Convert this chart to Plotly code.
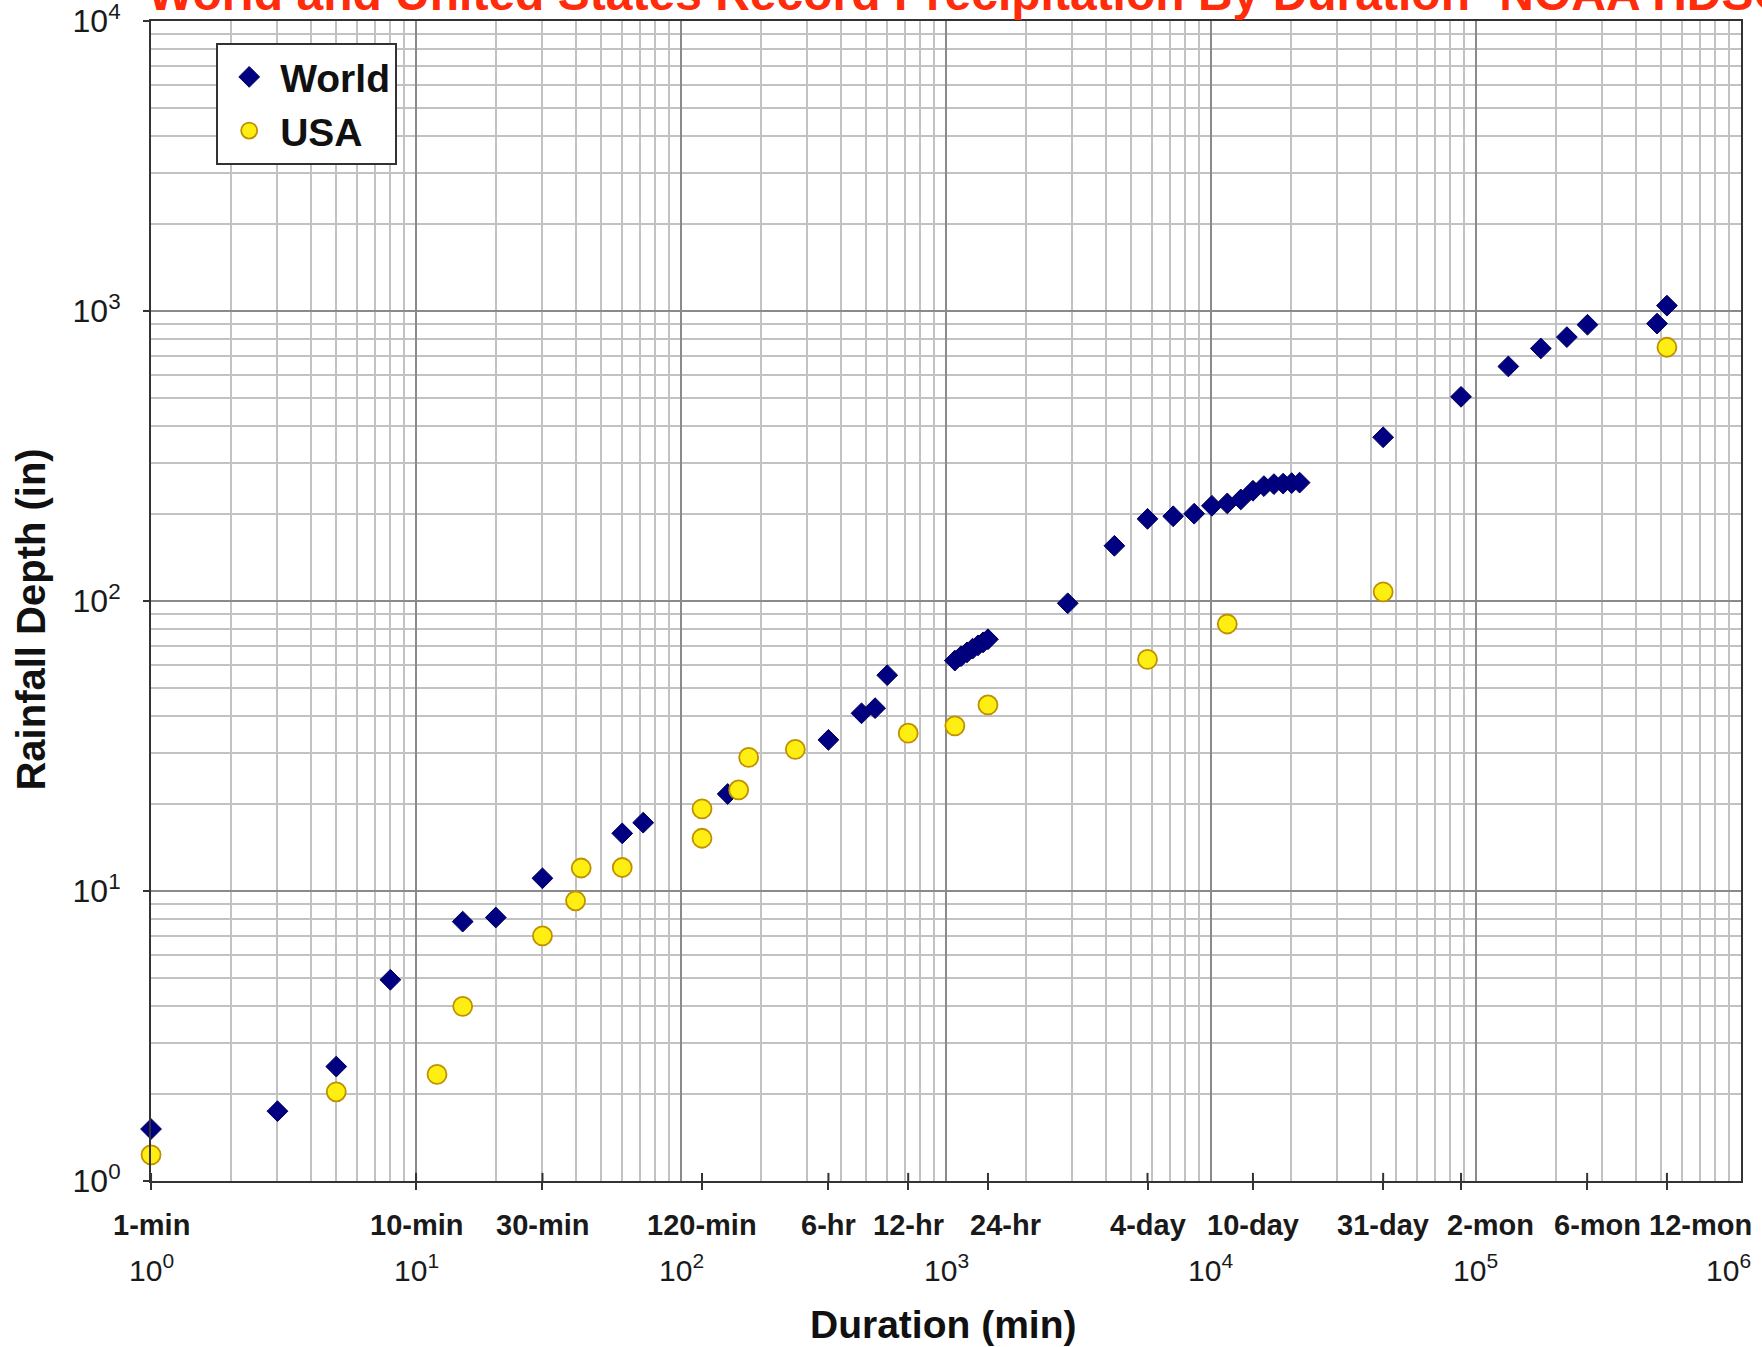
import math
import plotly.graph_objects as go

# World record point rainfall: duration (minutes) and depth (inches)
world_minutes = [1, 3, 5, 8, 15, 20, 30, 60, 72, 150, 360, 480, 540, 600,
                 1080, 1140, 1200, 1260, 1320, 1380, 1440, 2880,
                 4320, 5760, 7200, 8640, 10080, 11520, 12960, 14400,
                 15840, 17280, 18720, 20160, 21600, 44640,
                 87840, 132480, 175680, 220320, 263520, 482400, 525600]
world_inches = [1.51, 1.74, 2.48, 4.94, 7.84, 8.1, 11.06, 15.8, 17.2, 21.6, 33.2, 41.0, 42.7, 55.5,
                62.3, 64.5, 66.5, 68.5, 70.3, 72.0, 73.8, 98.2,
                155, 192, 196, 200, 213, 217, 224, 240,
                249, 253, 254, 255, 256, 367,
                506, 644, 743, 813, 897, 905, 1044]

# United States record point rainfall
usa_minutes = [1, 5, 12, 15, 30, 40, 42, 60, 120, 120, 165, 180, 270,
               720, 1080, 1440, 5760, 11520, 44640, 525600]
usa_inches = [1.23, 2.03, 2.33, 4.0, 7.0, 9.25, 12.0, 12.05, 19.2, 15.2, 22.3, 28.9, 30.8,
              35.0, 37.1, 43.8, 62.9, 83.3, 107.5, 750]

# Named duration ticks along the x axis
duration_ticks = [1, 10, 30, 120, 360, 720, 1440, 5760, 14400, 44640, 87840, 262800, 525600]
duration_names = ["1-min", "10-min", "30-min", "120-min", "6-hr", "12-hr", "24-hr",
                  "4-day", "10-day", "31-day", "2-mon", "6-mon", "12-mon"]
# horizontal nudge (px) for crowded duration labels
duration_label_shift = [0, 0, 0, 0, 0, 0, 18, 0, 0, 0, 29, 10, 34]

x_decades = [1, 10, 100, 1000, 10000, 100000, 1000000]
x_decade_labels = ["10<sup>0</sup>", "10<sup>1</sup>", "10<sup>2</sup>", "10<sup>3</sup>",
                   "10<sup>4</sup>", "10<sup>5</sup>", "10<sup>6</sup>"]
# the last decade label is pulled inside the page edge
x_decade_label_shift = [0, 0, 0, 0, 0, 0, -12]
y_decades = [1, 10, 100, 1000, 10000]
y_decade_labels = ["10<sup>0</sup>", "10<sup>1</sup>", "10<sup>2</sup>", "10<sup>3</sup>",
                   "10<sup>4</sup>"]

FONT = "Arial, Liberation Sans, sans-serif"
MAJOR_GRID = "#8a8a8a"
MINOR_GRID = "#c2c2c2"
FRAME = "#333333"
X_RANGE = [-0.0002, 6.0002]
Y_RANGE = [-0.0002, 4.0002]


def minor_positions(n_decades):
    vals = []
    for k in range(n_decades):
        for d in range(2, 10):
            vals.append(d * 10 ** k)
    return vals


fig = go.Figure()

# World series on the decade axis, USA series on the named-duration overlay axis
fig.add_trace(go.Scatter(
    x=world_minutes, y=world_inches, name="World", mode="markers",
    xaxis="x", yaxis="y", legendgroup="world",
    marker=dict(symbol="diamond", size=16, color="#000080",
                line=dict(color="#000060", width=1)),
    cliponaxis=False,
))
fig.add_trace(go.Scatter(
    x=usa_minutes, y=usa_inches, name="USA", mode="markers",
    xaxis="x2", yaxis="y", legendgroup="usa",
    marker=dict(symbol="circle", size=19, color="#FFEE11",
                line=dict(color="#BF9000", width=1.8)),
    cliponaxis=False,
))

fig.update_layout(
    width=1762, height=1347,
    margin=dict(l=151, r=21, t=21, b=166, pad=0, autoexpand=False),
    paper_bgcolor="white", plot_bgcolor="white",
    font=dict(family=FONT, color="#1a1a1a"),
    showlegend=True,
    legend=dict(
        x=0.041, y=0.981, xanchor="left", yanchor="top",
        bgcolor="white", bordercolor=FRAME, borderwidth=2,
        font=dict(family=FONT, size=39, color="#111111", weight="bold"),
        tracegroupgap=0, traceorder="grouped", itemwidth=52,
    ),
    xaxis=dict(
        type="log", range=X_RANGE, automargin=False,
        tickmode="array", tickvals=x_decades, ticks="", showticklabels=False,
        showgrid=True, gridcolor=MAJOR_GRID, gridwidth=2,
        minor=dict(tickmode="array", tickvals=minor_positions(6), showgrid=True,
                   gridcolor=MINOR_GRID, gridwidth=1.5, ticks=""),
        showline=True, linecolor=FRAME, linewidth=2, mirror=True,
        zeroline=False,
    ),
    xaxis2=dict(
        type="log", range=X_RANGE, overlaying="x", anchor="y", side="bottom",
        automargin=False,
        tickmode="array", tickvals=duration_ticks,
        ticks="outside", ticklen=8, tickwidth=2, tickcolor=FRAME,
        showticklabels=False,
        showgrid=False, showline=False, zeroline=False,
    ),
    yaxis=dict(
        type="log", range=Y_RANGE, automargin=False,
        tickmode="array", tickvals=y_decades, ticktext=y_decade_labels,
        tickfont=dict(family=FONT, size=32, color="#1a1a1a"),
        ticks="outside", ticklen=6, tickwidth=2, tickcolor=FRAME,
        ticklabelstandoff=16, ticklabeloverflow="allow",
        showgrid=True, gridcolor=MAJOR_GRID, gridwidth=2,
        minor=dict(tickmode="array", tickvals=minor_positions(4), showgrid=True,
                   gridcolor=MINOR_GRID, gridwidth=1.5, ticks=""),
        showline=True, linecolor=FRAME, linewidth=2, mirror=True,
        zeroline=False,
    ),
)

# Upper half of each duration tick, so the marks cross the axis line
for t in duration_ticks:
    fig.add_shape(type="line", xref="x2", yref="paper",
                  x0=t, x1=t, y0=0, y1=0.007,
                  line=dict(color=FRAME, width=2), layer="above")

# Duration names under their ticks
for t, name, dx in zip(duration_ticks, duration_names, duration_label_shift):
    fig.add_annotation(
        text=name, xref="x2", yref="paper", x=math.log10(t), y=-0.0379,
        xanchor="center", yanchor="middle", xshift=dx, showarrow=False,
        font=dict(family=FONT, size=29, color="#1a1a1a", weight="bold"),
    )

# Powers of ten on a second row
for v, label, dx in zip(x_decades, x_decade_labels, x_decade_label_shift):
    fig.add_annotation(
        text=label, xref="x", yref="paper", x=math.log10(v), y=-0.075,
        xanchor="center", yanchor="middle", xshift=dx, showarrow=False,
        font=dict(family=FONT, size=30, color="#1a1a1a"),
    )

fig.add_annotation(
    text="World and United States Record Precipitation By Duration- NOAA HDSC",
    xref="paper", yref="paper", x=-0.003, y=1.024,
    xanchor="left", yanchor="middle", showarrow=False,
    font=dict(family=FONT, size=48, color="#FF2B0A", weight="bold"),
)
fig.add_annotation(
    text="Duration (min)",
    xref="paper", yref="paper", x=0.498, y=-0.124,
    xanchor="center", yanchor="middle", showarrow=False,
    font=dict(family=FONT, size=39, color="#111111", weight="bold"),
)
fig.add_annotation(
    text="Rainfall Depth (in)",
    xref="paper", yref="paper", x=-0.0755, y=0.484,
    xanchor="center", yanchor="middle", showarrow=False, textangle=-90,
    font=dict(family=FONT, size=40, color="#111111", weight="bold"),
)

fig.write_html("out.html")
